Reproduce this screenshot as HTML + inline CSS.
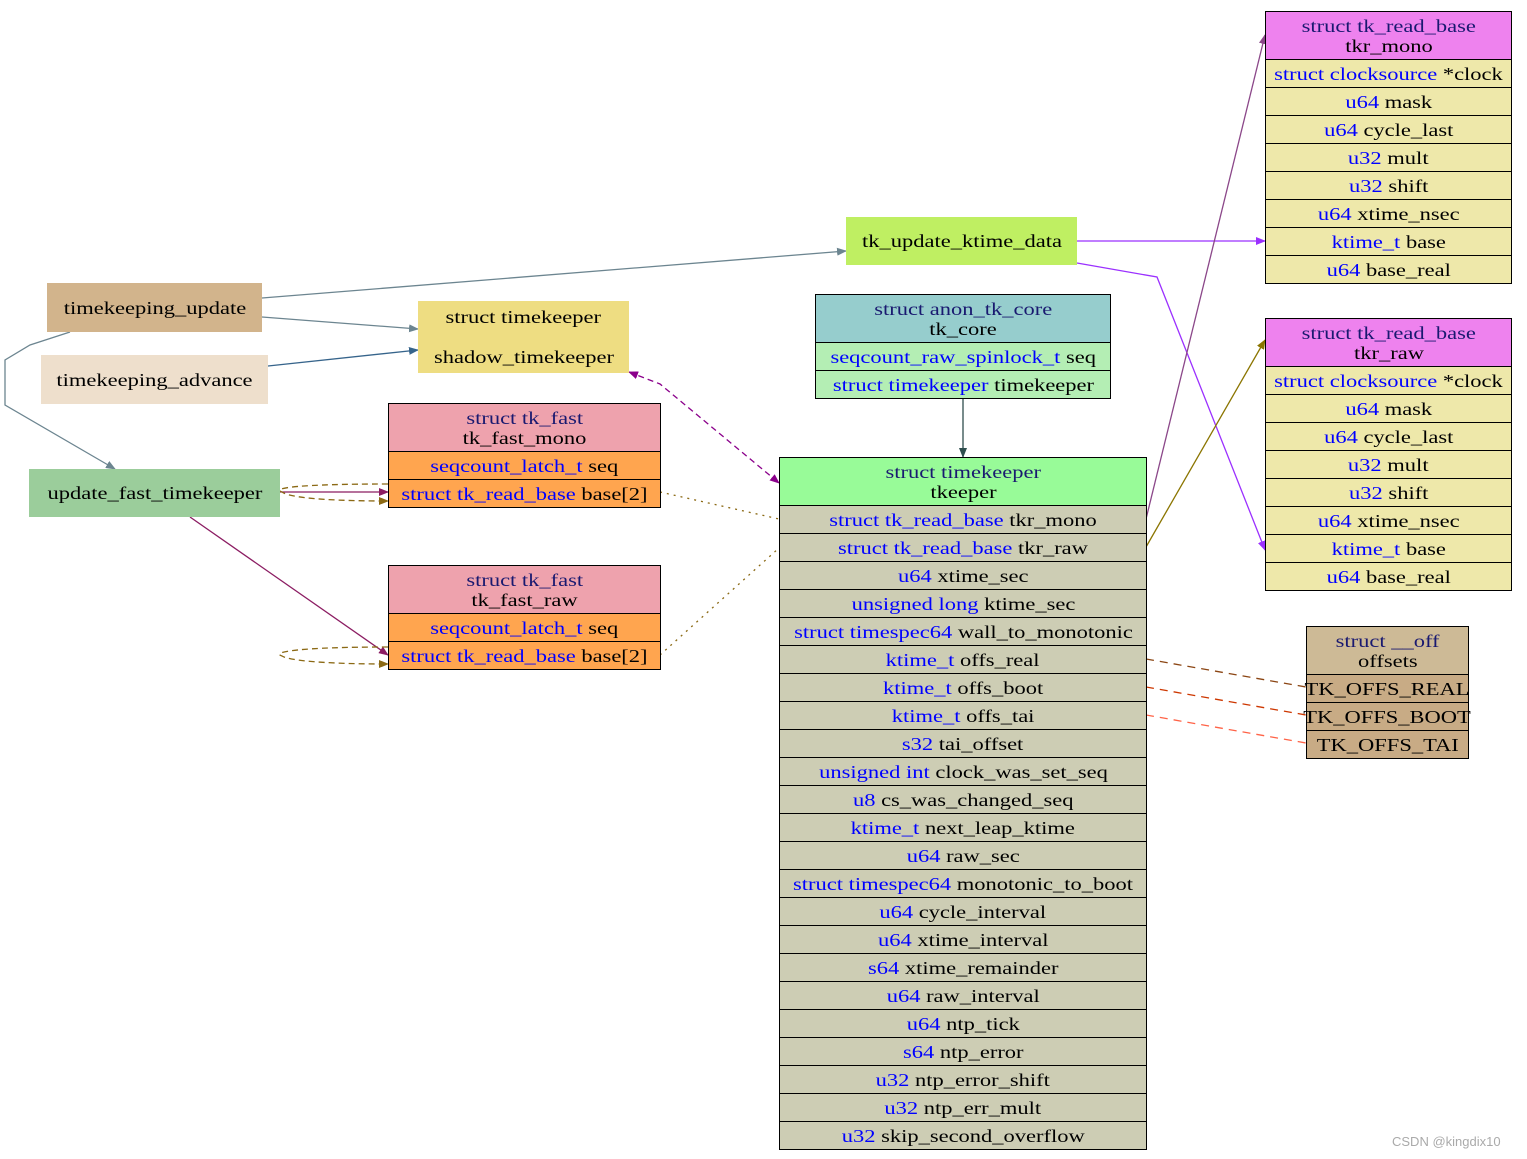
<!DOCTYPE html>
<html><head><meta charset="utf-8"><style>
body{margin:0;width:1527px;height:1159px;position:relative;background:#fff;overflow:hidden;font-family:"Liberation Serif",serif;font-size:18px;color:#000}
.n{position:absolute;display:flex;align-items:center;justify-content:center;text-align:center;line-height:20px}
.r{position:absolute;border:1px solid #000;box-sizing:border-box}
.r div{height:28px;border-top:1px solid #000;box-sizing:border-box;display:flex;align-items:center;justify-content:center;white-space:nowrap;line-height:18px}
.r div.h{height:47px;border-top:none;flex-direction:column;line-height:20px}
.t{color:#191970}
.b{color:#0000ff}
s{text-decoration:none;display:inline-block;transform:scaleX(1.25);white-space:nowrap}
svg{position:absolute;left:0;top:0}
</style></head><body>
<svg width="1527" height="1159">
<defs>
<marker id="a1" markerWidth="10" markerHeight="8" refX="9" refY="4" orient="auto" markerUnits="userSpaceOnUse"><path d="M0,0L10,4L0,8z" fill="#6c8590"/></marker>
<marker id="a2" markerWidth="10" markerHeight="8" refX="9" refY="4" orient="auto" markerUnits="userSpaceOnUse"><path d="M0,0L10,4L0,8z" fill="#36648b"/></marker>
<marker id="a3" markerWidth="10" markerHeight="8" refX="9" refY="4" orient="auto" markerUnits="userSpaceOnUse"><path d="M0,0L10,4L0,8z" fill="#8b1c62"/></marker>
<marker id="a4" markerWidth="10" markerHeight="8" refX="9" refY="4" orient="auto" markerUnits="userSpaceOnUse"><path d="M0,0L10,4L0,8z" fill="#8b6914"/></marker>
<marker id="a5" markerWidth="10" markerHeight="8" refX="9" refY="4" orient="auto" markerUnits="userSpaceOnUse"><path d="M0,0L10,4L0,8z" fill="#8b008b"/></marker>
<marker id="a5s" markerWidth="10" markerHeight="8" refX="1" refY="4" orient="auto" markerUnits="userSpaceOnUse"><path d="M10,0L0,4L10,8z" fill="#8b008b"/></marker>
<marker id="a6" markerWidth="10" markerHeight="8" refX="9" refY="4" orient="auto" markerUnits="userSpaceOnUse"><path d="M0,0L10,4L0,8z" fill="#2f4f4f"/></marker>
<marker id="a7" markerWidth="10" markerHeight="8" refX="9" refY="4" orient="auto" markerUnits="userSpaceOnUse"><path d="M0,0L10,4L0,8z" fill="#9b30ff"/></marker>
<marker id="a8" markerWidth="10" markerHeight="8" refX="9" refY="4" orient="auto" markerUnits="userSpaceOnUse"><path d="M0,0L10,4L0,8z" fill="#8b4789"/></marker>
<marker id="a9" markerWidth="10" markerHeight="8" refX="9" refY="4" orient="auto" markerUnits="userSpaceOnUse"><path d="M0,0L10,4L0,8z" fill="#8b7500"/></marker>
</defs>
<g fill="none" stroke-width="1.3">
<path d="M262,298L846,251" stroke="#6c8590" marker-end="url(#a1)"/>
<path d="M262,317L418,329" stroke="#6c8590" marker-end="url(#a1)"/>
<path d="M70,332L30,345L5,360L5,405L115,469" stroke="#6c8590" marker-end="url(#a1)"/>
<path d="M268,366L418,350" stroke="#36648b" marker-end="url(#a2)"/>
<path d="M280,492L388,492" stroke="#8b1c62" marker-end="url(#a3)"/>
<path d="M388,484C300,484 270,488 282,492C290,498 330,501 388,501" stroke="#8b6914" stroke-dasharray="6,4" marker-end="url(#a4)"/>
<path d="M190,517L388,655" stroke="#8b1c62" marker-end="url(#a3)"/>
<path d="M388,647C300,647 270,652 282,656C290,661 330,664 388,664" stroke="#8b6914" stroke-dasharray="6,4" marker-end="url(#a4)"/>
<path d="M660,492L779,519" stroke="#8b6914" stroke-dasharray="2,5"/>
<path d="M660,655L779,548" stroke="#8b6914" stroke-dasharray="2,5"/>
<path d="M629,372L660,384L779,483" stroke="#8b008b" stroke-dasharray="6,4" marker-start="url(#a5s)" marker-end="url(#a5)"/>
<path d="M963,398L963,457" stroke="#2f4f4f" marker-end="url(#a6)"/>
<path d="M1077,241L1265,241" stroke="#9b30ff" marker-end="url(#a7)"/>
<path d="M1077,263L1157,277L1265,550" stroke="#9b30ff" marker-end="url(#a7)"/>
<path d="M1146,519L1265,35" stroke="#8b4789" marker-end="url(#a8)"/>
<path d="M1146,547L1265,340" stroke="#8b7500" marker-end="url(#a9)"/>
<path d="M1146,659L1306,687" stroke="#8b4513" stroke-dasharray="8,6"/>
<path d="M1146,687L1306,715" stroke="#cd3700" stroke-dasharray="8,6"/>
<path d="M1146,715L1306,743" stroke="#ff6347" stroke-dasharray="8,6"/>
</g>
</svg>

<div class="n" style="left:47px;top:283px;width:215px;height:49px;background:#d2b48c"><s>timekeeping_update</s></div>
<div class="n" style="left:41px;top:355px;width:227px;height:49px;background:#eedfcc"><s>timekeeping_advance</s></div>
<div class="n" style="left:418px;top:301px;width:211px;height:72px;background:#eedd82;flex-direction:column;line-height:20px"><s>struct timekeeper</s><br><s>shadow_timekeeper</s></div>
<div class="n" style="left:29px;top:469px;width:251px;height:48px;background:#9bcd9b"><s>update_fast_timekeeper</s></div>
<div class="n" style="left:846px;top:217px;width:231px;height:48px;background:#bfef62"><s>tk_update_ktime_data</s></div>

<div class="r" style="left:388px;top:403px;width:273px;background:#ffa54f">
<div class="h" style="background:#eea2ad"><s class="t">struct tk_fast</s><s>tk_fast_mono</s></div>
<div><s><span class="b">seqcount_latch_t</span> seq</s></div>
<div><s><span class="b">struct tk_read_base</span> base[2]</s></div>
</div>
<div class="r" style="left:388px;top:565px;width:273px;background:#ffa54f">
<div class="h" style="background:#eea2ad"><s class="t">struct tk_fast</s><s>tk_fast_raw</s></div>
<div><s><span class="b">seqcount_latch_t</span> seq</s></div>
<div><s><span class="b">struct tk_read_base</span> base[2]</s></div>
</div>

<div class="r" style="left:815px;top:294px;width:296px;background:#b4eeb4">
<div class="h" style="background:#96cdcd"><s class="t">struct anon_tk_core</s><s>tk_core</s></div>
<div><s><span class="b">seqcount_raw_spinlock_t</span> seq</s></div>
<div><s><span class="b">struct timekeeper</span> timekeeper</s></div>
</div>

<div class="r" style="left:779px;top:457px;width:368px;background:#cdcdb4">
<div class="h" style="background:#98fb98"><s class="t">struct timekeeper</s><s>tkeeper</s></div>
<div><s><span class="b">struct tk_read_base</span> tkr_mono</s></div>
<div><s><span class="b">struct tk_read_base</span> tkr_raw</s></div>
<div><s><span class="b">u64</span> xtime_sec</s></div>
<div><s><span class="b">unsigned long</span> ktime_sec</s></div>
<div><s><span class="b">struct timespec64</span> wall_to_monotonic</s></div>
<div><s><span class="b">ktime_t</span> offs_real</s></div>
<div><s><span class="b">ktime_t</span> offs_boot</s></div>
<div><s><span class="b">ktime_t</span> offs_tai</s></div>
<div><s><span class="b">s32</span> tai_offset</s></div>
<div><s><span class="b">unsigned int</span> clock_was_set_seq</s></div>
<div><s><span class="b">u8</span> cs_was_changed_seq</s></div>
<div><s><span class="b">ktime_t</span> next_leap_ktime</s></div>
<div><s><span class="b">u64</span> raw_sec</s></div>
<div><s><span class="b">struct timespec64</span> monotonic_to_boot</s></div>
<div><s><span class="b">u64</span> cycle_interval</s></div>
<div><s><span class="b">u64</span> xtime_interval</s></div>
<div><s><span class="b">s64</span> xtime_remainder</s></div>
<div><s><span class="b">u64</span> raw_interval</s></div>
<div><s><span class="b">u64</span> ntp_tick</s></div>
<div><s><span class="b">s64</span> ntp_error</s></div>
<div><s><span class="b">u32</span> ntp_error_shift</s></div>
<div><s><span class="b">u32</span> ntp_err_mult</s></div>
<div><s><span class="b">u32</span> skip_second_overflow</s></div>
</div>

<div class="r" style="left:1265px;top:11px;width:247px;background:#eee8aa">
<div class="h" style="background:#ee82ee"><s class="t">struct tk_read_base</s><s>tkr_mono</s></div>
<div><s><span class="b">struct clocksource</span> *clock</s></div>
<div><s><span class="b">u64</span> mask</s></div>
<div><s><span class="b">u64</span> cycle_last</s></div>
<div><s><span class="b">u32</span> mult</s></div>
<div><s><span class="b">u32</span> shift</s></div>
<div><s><span class="b">u64</span> xtime_nsec</s></div>
<div><s><span class="b">ktime_t</span> base</s></div>
<div><s><span class="b">u64</span> base_real</s></div>
</div>
<div class="r" style="left:1265px;top:318px;width:247px;background:#eee8aa">
<div class="h" style="background:#ee82ee"><s class="t">struct tk_read_base</s><s>tkr_raw</s></div>
<div><s><span class="b">struct clocksource</span> *clock</s></div>
<div><s><span class="b">u64</span> mask</s></div>
<div><s><span class="b">u64</span> cycle_last</s></div>
<div><s><span class="b">u32</span> mult</s></div>
<div><s><span class="b">u32</span> shift</s></div>
<div><s><span class="b">u64</span> xtime_nsec</s></div>
<div><s><span class="b">ktime_t</span> base</s></div>
<div><s><span class="b">u64</span> base_real</s></div>
</div>

<div class="r" style="left:1306px;top:626px;width:163px;background:#c8ab85">
<div class="h" style="background:#cdba96"><s class="t">struct __off</s><s>offsets</s></div>
<div><s>TK_OFFS_REAL</s></div>
<div><s>TK_OFFS_BOOT</s></div>
<div><s>TK_OFFS_TAI</s></div>
</div>

<div style="position:absolute;left:1392px;top:1134px;font-family:'Liberation Sans',sans-serif;font-size:13px;color:#aaa">CSDN @kingdix10</div>
</body></html>
